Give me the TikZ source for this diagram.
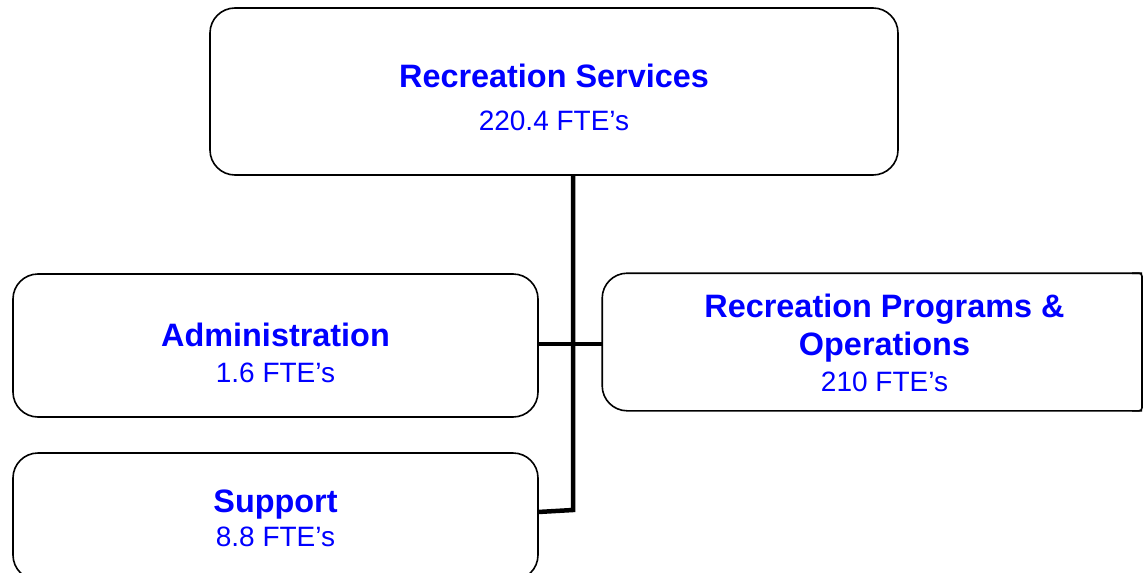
\documentclass[tikz,border=0pt]{standalone}
\usepackage{fontspec}
\setmainfont{Liberation Sans}
\usepackage{xcolor}
\usetikzlibrary{calc}
\definecolor{labelblue}{RGB}{0,0,255}
\newcommand{\unitname}[1]{{\fontsize{32.4}{33}\selectfont\bfseries #1}}
\newcommand{\lift}[1]{\rule{0pt}{#1}}

\begin{document}
\begin{tikzpicture}[x=1pt, y=-1pt,
    unit/.style={draw, line width=1.6pt, rounded corners=25pt, inner sep=0pt,
        align=center, text=labelblue, font=\fontsize{28}{33}\selectfont},
    link/.style={line width=4.5pt, line join=miter}]
    \useasboundingbox (0,0) rectangle (1144,573);

    % Units
    \node[unit, minimum width=688pt, minimum height=167pt] (top) at (554,91.5)
        {\lift{36pt}\unitname{Recreation Services}\\[10pt] 220.4 FTE's};
    \node[unit, minimum width=525pt, minimum height=143pt] (adm) at (275.5,345.5)
        {\lift{38pt}\unitname{Administration}\\[3pt] 1.6 FTE's};
    \node[unit, minimum width=525pt, minimum height=127pt] (sup) at (275.5,516.5)
        {\lift{27pt}\unitname{Support}\\[1pt] 8.8 FTE's};
    \node[unit, draw=none, minimum width=563pt, minimum height=136pt] (rp) at (884.5,342)
        {\lift{26pt}\unitname{Recreation Programs \&}\\[5pt] \unitname{Operations}\\[3pt] 210 FTE's};

    % Right unit, cut at the page edge
    \coordinate (rim) at (1142,0);
    \draw[line width=1.6pt, rounded corners=25pt] (rp.north -| rim) -- (rp.north west)
        -- (rp.south west) -- (rp.south -| rim);
    \draw[line width=1.6pt, rounded corners=3pt] ($(rp.north -| rim)+(-10,0)$) -- (rp.north -| rim)
        -- (rp.south -| rim) -- ($(rp.south -| rim)+(-10,0)$);

    % Connectors
    \coordinate (mid) at (573,344);
    \coordinate (trunkend) at (573,510);
    \coordinate (supjoin) at (538,512);
    \draw[link] (top.south -| mid) -- (trunkend) -- (supjoin);
    \draw[link, line width=4pt] (adm.east |- mid) -- (rp.west |- mid);
\end{tikzpicture}
\end{document}
